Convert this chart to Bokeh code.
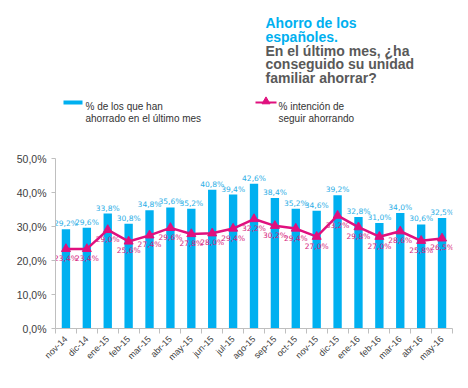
import math
from bokeh.plotting import figure
from bokeh.layouts import column
from bokeh.models import Range1d, FixedTicker, Label
from bokeh.core.properties import value
from bokeh.embed import file_html
from bokeh.resources import INLINE

# ---- data ----
categories = ["nov-14", "dic-14", "ene-15", "feb-15", "mar-15", "abr-15", "may-15",
              "jun-15", "jul-15", "ago-15", "sep-15", "oct-15", "nov-15", "dic-15",
              "ene-16", "feb-16", "mar-16", "abr-16", "may-16"]
ahorrado = [29.2, 29.6, 33.8, 30.8, 34.8, 35.6, 35.2, 40.8, 39.4, 42.6, 38.4,
            35.2, 34.6, 39.2, 32.8, 31.0, 34.0, 30.6, 32.5]
intencion = [23.4, 23.4, 29.0, 25.6, 27.4, 29.6, 27.8, 28.0, 29.4, 32.2, 30.2,
             29.4, 27.0, 33.2, 29.8, 27.0, 28.6, 25.8, 26.5]
y_ticks = [0, 10, 20, 30, 40, 50]
title_blue = ["Ahorro de los", "españoles."]
title_grey = ["En el último mes, ¿ha", "conseguido su unidad", "familiar ahorrar?"]
legend_bar = ["% de los que han", "ahorrado en el último mes"]
legend_line = ["% intención de", "seguir ahorrando"]

BLUE = "#00B0F0"
BLUE_TXT = "#2AAEE6"
MAG = "#E0107E"
MAG_TXT = "#D61C7C"
DARK = "#404040"
AXIS = "#BFBFBF"
FONT = "Liberation Sans"

W = 460
H_HEAD = 138
H_CHART = 242
LEFT = 55
RIGHT = 8


def pct(v):
    return f"{v:.1f}%".replace(".", ",")


# ---- header (title + legend), coordinates in page pixels, y downwards ----
# frames of the column's children are aligned, so the header frame spans LEFT..W-RIGHT
head = figure(width=W, height=H_HEAD, x_range=Range1d(LEFT, W - RIGHT),
              y_range=Range1d(H_HEAD, 0),
              x_axis_type=None, y_axis_type=None, toolbar_location=None,
              output_backend="svg", min_border_left=LEFT, min_border_right=RIGHT,
              min_border_top=0, min_border_bottom=0, outline_line_color=None)
head.grid.visible = False

tx = 265
ty = 22.5
lh = 13.8
for i, t in enumerate(title_blue + title_grey):
    head.add_layout(Label(x=tx, y=ty + i * lh, text=t, text_font=FONT, text_font_size="14px",
                          text_font_style="bold", text_baseline="alphabetic",
                          text_color=BLUE if i < len(title_blue) else "#595959"))

# legend: bars
head.quad(left=[63], right=[82], top=[100], bottom=[104], fill_color=BLUE, line_color=None)
for i, t in enumerate(legend_bar):
    head.add_layout(Label(x=85, y=106 + i * 12, text=t, text_font=FONT, text_font_size="10px",
                          text_baseline="alphabetic", text_color="#333333"))
# legend: line
head.line([255, 276], [102, 102], line_color=MAG, line_width=2)
head.scatter([265.5], [101], marker="triangle", size=8, fill_color=MAG, line_color=MAG)
for i, t in enumerate(legend_line):
    head.add_layout(Label(x=278, y=106 + i * 12, text=t, text_font=FONT, text_font_size="10px",
                          text_baseline="alphabetic", text_color="#333333"))

# ---- chart ----
n = len(categories)
xs = [i + 0.5 for i in range(n)]
p = figure(width=W, height=H_CHART, x_range=Range1d(0, n), y_range=Range1d(0, 50),
           toolbar_location=None, output_backend="svg",
           min_border_left=LEFT, min_border_right=RIGHT, min_border_top=20,
           min_border_bottom=52, outline_line_color=None)
p.grid.visible = False

p.vbar(x=xs, top=ahorrado, width=0.4, fill_color=BLUE, line_color=None)
p.line(xs, intencion, line_color=MAG, line_width=2.5)
p.scatter(xs, intencion, marker="triangle", size=9, fill_color=MAG, line_color=MAG)

p.text(xs, ahorrado, text=[pct(v) for v in ahorrado], text_align="center",
       text_baseline="bottom", y_offset=-1, text_font=value("DejaVu Sans"),
       text_font_size="7.5px", text_color=BLUE_TXT)
p.text(xs, intencion, text=[pct(v) for v in intencion], text_align="center",
       text_baseline="top", y_offset=5, text_font=value("DejaVu Sans"),
       text_font_size="7.5px", text_color=MAG_TXT)

# y axis
p.yaxis.ticker = FixedTicker(ticks=y_ticks)
p.yaxis.major_label_overrides = {t: f"{t},0%" for t in y_ticks}
p.yaxis.axis_line_color = AXIS
p.yaxis.major_tick_line_color = AXIS
p.yaxis.major_tick_in = 0
p.yaxis.major_tick_out = 4
p.yaxis.minor_tick_line_color = None
p.yaxis.major_label_text_font = FONT
p.yaxis.major_label_text_font_size = "10.5px"
p.yaxis.major_label_text_color = DARK
p.yaxis.major_label_standoff = 5

# x axis
p.xaxis.ticker = FixedTicker(ticks=xs, minor_ticks=list(range(n + 1)))
p.xaxis.major_label_overrides = {x: c for x, c in zip(xs, categories)}
p.xaxis.axis_line_color = AXIS
p.xaxis.major_tick_line_color = None
p.xaxis.minor_tick_line_color = AXIS
p.xaxis.minor_tick_in = 0
p.xaxis.minor_tick_out = 5
p.xaxis.major_label_orientation = math.pi / 4
p.xaxis.major_label_text_font = FONT
p.xaxis.major_label_text_font_size = "9px"
p.xaxis.major_label_text_color = DARK
p.xaxis.major_label_standoff = 3

layout = column(head, p, spacing=0)
open("out.html", "w").write(file_html(layout, INLINE))
